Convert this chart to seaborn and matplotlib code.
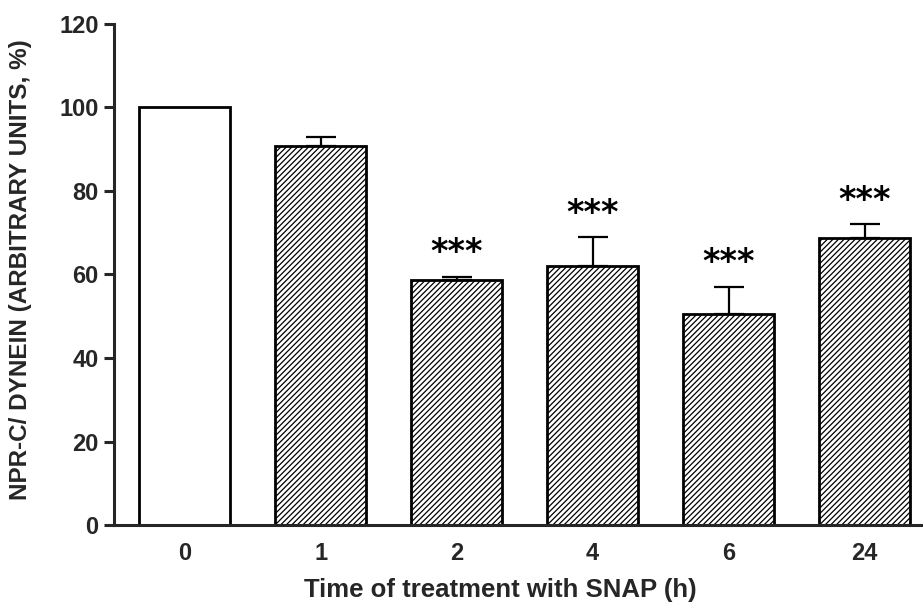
import numpy as np
import pandas as pd
import matplotlib
matplotlib.use("Agg")
import matplotlib.pyplot as plt
import seaborn as sns

# valeurs
temps = ["0", "1", "2", "4", "6", "24"]
ratio = [100.0, 90.7, 58.7, 62.0, 50.6, 68.8]
erreur = [0.0, 2.2, 0.8, 6.9, 6.5, 3.2]
signif = ["", "", "***", "***", "***", "***"]

sns.set_style("ticks")
plt.rcParams['font.family'] = ['Liberation Sans', 'DejaVu Sans']
plt.rcParams['hatch.linewidth'] = 0.9

df = pd.DataFrame({"temps": temps, "ratio": ratio})

fig = plt.figure(figsize=(9.23, 6.12), dpi=100)
ax = fig.add_axes([0.1235, 0.142, 0.8765, 0.819])

sns.barplot(data=df, x="temps", y="ratio", order=temps, color="white",
            width=0.67, edgecolor="black", linewidth=2.0, ax=ax)

for i, p in enumerate(ax.patches):
    p.set_facecolor("white")
    if i > 0:
        p.set_hatch("//////")

# barres d'erreur vers le haut seulement
x = np.arange(len(temps))
ax.errorbar(x[1:], ratio[1:], yerr=[np.zeros(len(temps) - 1), erreur[1:]],
            fmt="none", ecolor="black", elinewidth=1.6, capsize=11, capthick=1.6)

for i in range(len(temps)):
    if signif[i]:
        ax.text(x[i], ratio[i] + erreur[i] + 5.8, signif[i], ha="center", va="center",
                fontsize=24, fontweight="bold", color="black", family="DejaVu Sans")

ax.set_xlim(-0.52, 5.43)
ax.set_ylim(0, 120)
ax.set_yticks([0, 20, 40, 60, 80, 100, 120])
ax.set_xlabel("Time of treatment with SNAP (h)", fontsize=18.5, fontweight="bold")
ax.set_ylabel("NPR-C/ DYNEIN (ARBITRARY UNITS, %)", fontsize=17.5, fontweight="bold")
ax.xaxis.set_label_coords(0.477, -0.105)
ax.yaxis.set_label_coords(-0.101, 0.51)
ax.tick_params(axis="y", length=7, width=2.2, labelsize=17, pad=4)
ax.tick_params(axis="x", length=0, labelsize=17, pad=12)
for lab in ax.get_xticklabels() + ax.get_yticklabels():
    lab.set_fontweight("bold")

sns.despine(ax=ax)
ax.spines["left"].set_linewidth(2.2)
ax.spines["bottom"].set_linewidth(2.2)

fig.savefig("out.png", dpi=100)
